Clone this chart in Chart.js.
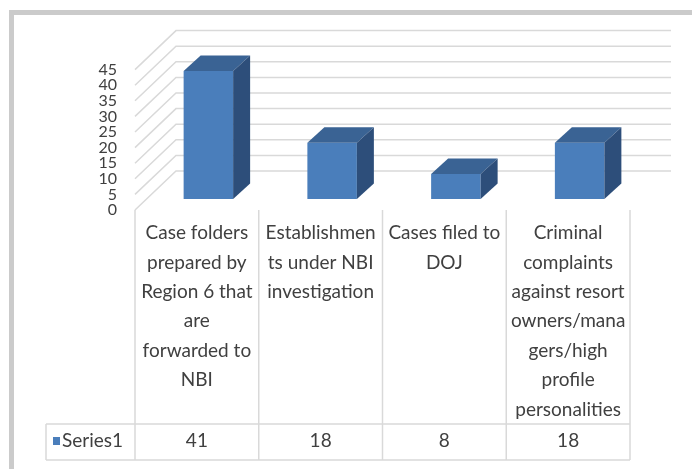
<!DOCTYPE html>
<html>
<head>
<meta charset="utf-8">
<script src="https://cdn.jsdelivr.net/npm/chart.js@4"></script>
<style>
  html, body { margin: 0; padding: 0; background: #fff; }
  #wrap { position: relative; width: 692px; height: 469px; }
  #frame { position: absolute; left: 9px; top: 10px; right: 0; bottom: 0;
           border-left: 5px solid #cbcbcb; border-top: 5px solid #cbcbcb; }
  canvas { position: absolute; left: 0; top: 0; }
</style>
</head>
<body>
<div id="wrap">
  <div id="frame"></div>
  <canvas id="chart" width="692" height="469"></canvas>
</div>
<script>
const categories = [
    ['Case folders', 'prepared by', 'Region 6 that', 'are', 'forwarded to', 'NBI'],
    ['Establishmen', 'ts under NBI', 'investigation'],
    ['Cases filed to', 'DOJ'],
    ['Criminal', 'complaints', 'against resort', 'owners/mana', 'gers/high', 'profile', 'personalities']
];
const seriesName = 'Series1';
const values = [41, 18, 8, 18];
const yTicks = [0, 5, 10, 15, 20, 25, 30, 35, 40, 45];

const FONT = 'Lato, "Open Sans", sans-serif';
const TEXT = '#404040';
const GRID = '#d9d9d9';

// 3d look: back wall offset and bar depth
const wall = { dx: 41, dy: -39 };
const barShift = { dx: 11.5, dy: -11 };
const barDepth = { dx: 17, dy: -15.5 };

const threeD = {
    id: 'threeD',
    beforeDatasetsDraw(chart) {
        const ctx = chart.ctx;
        const y = chart.scales.y;
        const area = chart.chartArea;
        ctx.save();
        ctx.strokeStyle = GRID;
        ctx.lineWidth = 1.5;
        yTicks.forEach(function (v) {
            const py = y.getPixelForValue(v);
            ctx.beginPath();
            ctx.moveTo(area.left, py);
            ctx.lineTo(area.left + wall.dx, py + wall.dy);
            ctx.lineTo(area.right + wall.dx, py + wall.dy);
            ctx.stroke();
        });
        ctx.restore();
        ctx.save();
        ctx.translate(barShift.dx, barShift.dy);
    },
    afterDatasetsDraw(chart) {
        const ctx = chart.ctx;
        chart.getDatasetMeta(0).data.forEach(function (bar) {
            const p = bar.getProps(['x', 'y', 'base', 'width'], true);
            const l = p.x - p.width / 2, r = p.x + p.width / 2;
            // top face
            ctx.fillStyle = '#3a6394';
            ctx.beginPath();
            ctx.moveTo(l, p.y);
            ctx.lineTo(l + barDepth.dx, p.y + barDepth.dy);
            ctx.lineTo(r + barDepth.dx, p.y + barDepth.dy);
            ctx.lineTo(r, p.y);
            ctx.closePath();
            ctx.fill();
            // side face
            ctx.fillStyle = '#2d4e7a';
            ctx.beginPath();
            ctx.moveTo(r, p.y);
            ctx.lineTo(r + barDepth.dx, p.y + barDepth.dy);
            ctx.lineTo(r + barDepth.dx, p.base + barDepth.dy);
            ctx.lineTo(r, p.base);
            ctx.closePath();
            ctx.fill();
        });
        ctx.restore();
    },
    afterDraw(chart) {
        const ctx = chart.ctx;
        const x = chart.scales.x;
        const area = chart.chartArea;
        const colW = (area.right - area.left) / categories.length;
        const rowTop = 424, rowBottom = 460, tableLeft = 46;

        ctx.save();
        ctx.strokeStyle = GRID;
        ctx.lineWidth = 1.5;
        ctx.beginPath();
        for (let i = 0; i <= categories.length; i++) {
            const px = area.left + i * colW;
            ctx.moveTo(px, area.bottom);
            ctx.lineTo(px, rowBottom);
        }
        ctx.moveTo(tableLeft, rowTop);
        ctx.lineTo(area.right, rowTop);
        ctx.moveTo(tableLeft, rowBottom);
        ctx.lineTo(area.right, rowBottom);
        ctx.moveTo(tableLeft, rowTop);
        ctx.lineTo(tableLeft, rowBottom);
        ctx.stroke();

        ctx.fillStyle = TEXT;
        ctx.font = '19px ' + FONT;
        ctx.textAlign = 'center';
        ctx.textBaseline = 'middle';
        categories.forEach(function (lines, i) {
            const cx = x.getPixelForValue(i);
            lines.forEach(function (t, j) {
                ctx.fillText(t, cx, 233 + j * 29.4);
            });
            ctx.fillText(String(values[i]), cx, 441);
        });

        ctx.fillStyle = '#4a7ebb';
        ctx.fillRect(53, 437, 7, 8);
        ctx.fillStyle = TEXT;
        ctx.textAlign = 'left';
        ctx.fillText(seriesName, 62, 441);
        ctx.restore();
    }
};

new Chart(document.getElementById('chart'), {
    type: 'bar',
    data: {
        labels: categories,
        datasets: [{
            label: seriesName,
            data: values,
            backgroundColor: '#4a7ebb',
            borderWidth: 0,
            barPercentage: 0.4,
            categoryPercentage: 1
        }]
    },
    options: {
        responsive: false,
        animation: false,
        layout: { padding: { left: 0, top: 69.6, right: 62, bottom: 259 } },
        plugins: { legend: { display: false }, tooltip: { enabled: false } },
        scales: {
            x: { display: false },
            y: {
                min: 0,
                max: 45,
                afterFit: function (scale) { scale.width = 135; },
                afterBuildTicks: function (scale) {
                    scale.ticks = yTicks.map(function (v) { return { value: v }; });
                },
                grid: { display: false, drawTicks: false },
                border: { display: false },
                ticks: {
                    autoSkip: false,
                    padding: 18,
                    color: TEXT,
                    font: { family: FONT, size: 16 }
                }
            }
        }
    },
    plugins: [threeD]
});
</script>
</body>
</html>
